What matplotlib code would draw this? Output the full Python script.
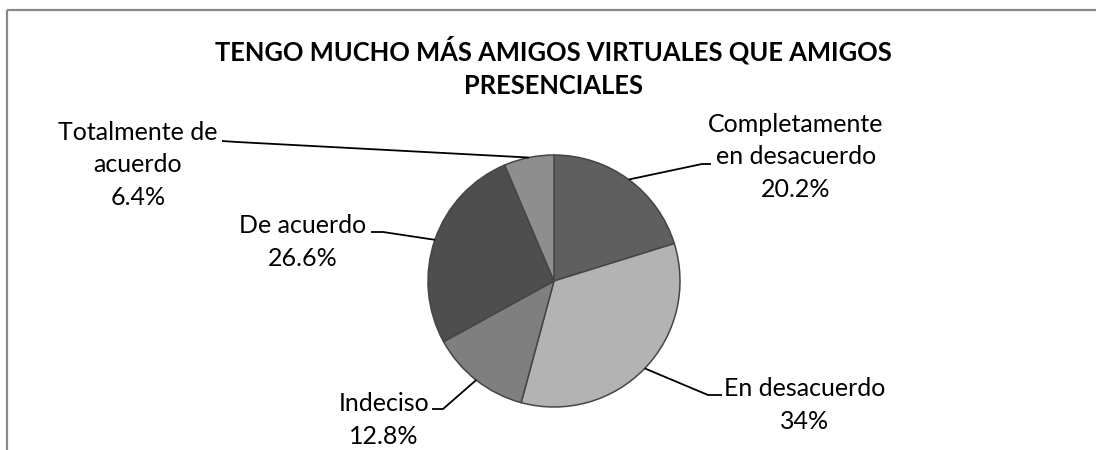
import numpy as np
import matplotlib
matplotlib.use("Agg")
import matplotlib.pyplot as plt

plt.rcParams['font.family'] = ['Lato', 'DejaVu Sans']

title = "TENGO MUCHO MÁS AMIGOS VIRTUALES QUE AMIGOS\nPRESENCIALES"
categories = ["Completamente\nen desacuerdo", "En desacuerdo", "Indeciso",
              "De acuerdo", "Totalmente de\nacuerdo"]
percentages = [20.2, 34, 12.8, 26.6, 6.4]
percent_labels = ["20.2%", "34%", "12.8%", "26.6%", "6.4%"]
colors = ["#5f5f5f", "#b3b3b3", "#7f7f7f", "#4e4e4e", "#8e8e8e"]

W, H = 1096, 450
fig = plt.figure(figsize=(W / 100, H / 100), dpi=100)
ax = fig.add_axes([0, 0, 1, 1])


def Y(y):
    # pixel row (top-down) to data y (bottom-up)
    return H - y


center = (554, Y(281))
radius = 126

wedges, _ = ax.pie(percentages, startangle=90, counterclock=False,
                   radius=radius, center=center, colors=colors,
                   wedgeprops=dict(edgecolor="#454545", linewidth=1.1))

ax.set_xlim(0, W)
ax.set_ylim(0, H)
ax.set_aspect('equal')
ax.axis('off')

# leader elbows, label ends and label block centres (pixel coordinates)
elbows = [(702, 164), (708, 395), (443, 409), (383, 232), (237, 142)]
ends = [(711, 164), (722, 395), (432, 409), (371, 232), (222, 141)]
text_pos = [(796, 157), (805, 405), (384, 420), (303, 242), (138, 165)]

for w, el, en, tp, cat, pl in zip(wedges, elbows, ends, text_pos,
                                  categories, percent_labels):
    mid = np.deg2rad((w.theta1 + w.theta2) / 2)
    px = center[0] + radius * np.cos(mid)
    py = center[1] + radius * np.sin(mid)
    ax.plot([px, el[0], en[0]], [py, Y(el[1]), Y(en[1])],
            color="black", lw=1.3, solid_capstyle="butt")
    ax.text(tp[0], Y(tp[1]), f"{cat}\n{pl}", ha="center", va="center",
            fontsize=18, linespacing=1.5, color="black")

ax.text(553, Y(67), title, ha="center", va="center", fontsize=18.4,
        fontweight="bold", linespacing=1.45, color="black")

# chart area border (left and top edges)
ax.plot([7, 7], [0, Y(10)], color="#8a8a8a", lw=1.6, solid_capstyle="butt")
ax.plot([7, W], [Y(10), Y(10)], color="#8a8a8a", lw=1.6,
        solid_capstyle="butt")

fig.savefig("out.png", dpi=100)
